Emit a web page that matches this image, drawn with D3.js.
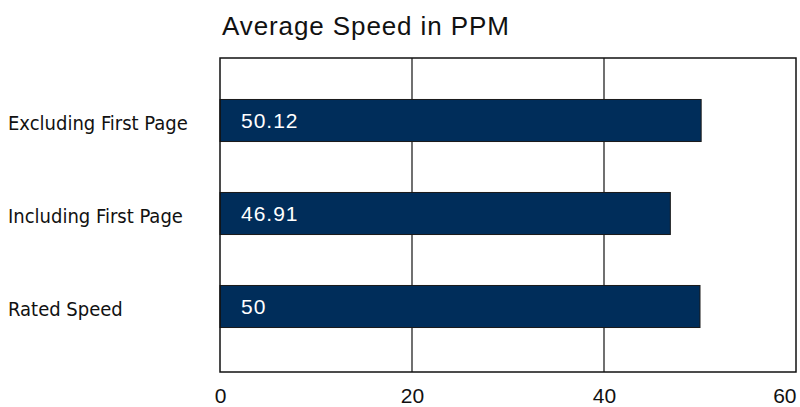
<!DOCTYPE html>
<html>
<head>
<meta charset="utf-8">
<script src="https://cdn.jsdelivr.net/npm/d3@7"></script>
<style>
  body { margin: 0; background: #fff; }
  text { font-family: "Liberation Sans", Arial, sans-serif; }
</style>
</head>
<body>
<div id="chart"></div>
<script>
var w = 800;
var h = 407;

// data
var categories = ["Excluding First Page", "Including First Page", "Rated Speed"];
var values = [50.12, 46.91, 50];
var valueLabels = ["50.12", "46.91", "50"];
var ticks = [0, 20, 40, 60];

var plotLeft = 220, plotRight = 796, plotTop = 58, plotBottom = 372;

var svg = d3.select("#chart")
  .append("svg")
  .attr("width", w)
  .attr("height", h);

var x = d3.scaleLinear().domain([0, 60]).range([plotLeft, plotRight]);
var y = d3.scaleBand().domain(categories).range([74, 353])
  .paddingInner(0.548).paddingOuter(0.274);

// title
svg.append("text")
  .attr("x", 222)
  .attr("y", 35)
  .style("font-size", "26px")
  .style("letter-spacing", "0.9px")
  .attr("fill", "#111")
  .text("Average Speed in PPM");

// grid lines
svg.selectAll(".grid")
  .data(ticks.slice(1, -1))
  .enter()
  .append("line")
  .attr("x1", function(d) { return x(d); })
  .attr("x2", function(d) { return x(d); })
  .attr("y1", plotTop)
  .attr("y2", plotBottom)
  .attr("stroke", "#111")
  .attr("stroke-width", 1.2);

// bars
svg.selectAll(".bar")
  .data(values)
  .enter()
  .append("rect")
  .attr("x", x(0))
  .attr("y", function(d, i) { return y(categories[i]); })
  .attr("width", function(d) { return x(d) - x(0); })
  .attr("height", y.bandwidth())
  .attr("fill", "#002d5a")
  .attr("stroke", "#1a1a1a")
  .attr("stroke-width", 1);

// value labels
svg.selectAll(".val")
  .data(valueLabels)
  .enter()
  .append("text")
  .attr("x", x(0) + 21)
  .attr("y", function(d, i) { return y(categories[i]) + y.bandwidth() / 2; })
  .attr("dy", "0.36em")
  .attr("fill", "#fff")
  .style("font-size", "21px")
  .style("letter-spacing", "1px")
  .text(function(d) { return d; });

// frame
svg.append("rect")
  .attr("x", plotLeft)
  .attr("y", plotTop)
  .attr("width", plotRight - plotLeft)
  .attr("height", plotBottom - plotTop)
  .attr("fill", "none")
  .attr("stroke", "#111")
  .attr("stroke-width", 1.5);

// category labels
svg.selectAll(".cat")
  .data(categories)
  .enter()
  .append("text")
  .attr("x", 8)
  .attr("y", function(d) { return y(d) + y.bandwidth() / 2; })
  .attr("dy", "0.45em")
  .attr("fill", "#111")
  .style("font-family", "'Liberation Sans Narrow', 'DejaVu Sans Condensed', sans-serif")
  .style("font-size", "20px")
  .text(function(d) { return d; });

// x axis
var xAxis = d3.axisBottom(x).tickValues(ticks).tickSize(0).tickPadding(16);
var gx = svg.append("g")
  .attr("transform", "translate(0," + plotBottom + ")")
  .call(xAxis);
gx.select(".domain").remove();
gx.selectAll("text")
  .style("font-family", "'Liberation Sans', Arial, sans-serif")
  .style("font-size", "21px")
  .attr("fill", "#111")
  .attr("text-anchor", function(d, i) { return i === ticks.length - 1 ? "end" : "middle"; });
</script>
</body>
</html>
